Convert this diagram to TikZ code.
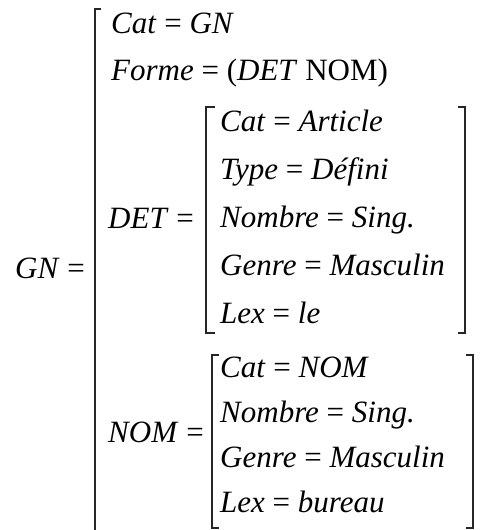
\documentclass[tikz,border=0pt]{standalone}
\usepackage{fontspec}
\setmainfont{Liberation Serif}
\usetikzlibrary{positioning}

\newcommand{\attval}[2]{\textit{#1} = \textit{#2}}

\tikzset{feat/.style={anchor=base west,inner sep=0pt,font=\fontsize{31}{34}\selectfont},
	brack/.style={line width=1.2pt,black!85}}

\begin{document}
\begin{tikzpicture}[x=1pt,y=-1pt]
\useasboundingbox (0,0) rectangle (481,530);

%outer matrix
\draw[brack] (101,9) -- ++(-6,0) -- ++(0,521);% left bracket, open at the bottom
\node[feat] (gn) at (15,278) {\textit{GN} =};
\node[feat] (catgn) at (111,33) {\attval{Cat}{GN}};
\node[feat] (forme) at (111,80) {\textit{Forme} = (\textit{DET} NOM)};

%determiner
\node[feat] (det) at (108,228) {\textit{DET} =};
\draw[brack] (215,107) -- ++(-9,0) -- ++(0,226) -- ++(9,0);% left
\draw[brack] (458,107) -- ++(7,0) -- ++(0,226) -- ++(-7,0);% right
\node[feat] (detcat) at (220,131) {\attval{Cat}{Article}};
\node[feat] (dettype) at (220,179) {\attval{Type}{Défini}};
\node[feat] (detnb) at (220,227) {\attval{Nombre}{Sing.}};
\node[feat] (detgenre) at (220,275) {\attval{Genre}{Masculin}};
\node[feat] (detlex) at (220,323) {\attval{Lex}{le}};

%noun
\node[feat] (nom) at (108,442) {\textit{NOM} =};
\draw[brack] (219,355) -- ++(-7,0) -- ++(0,173) -- ++(7,0);% left
\draw[brack] (466,355) -- ++(7,0) -- ++(0,173) -- ++(-7,0);% right
\node[feat] (nomcat) at (220,377) {\attval{Cat}{NOM}};
\node[feat] (nomnb) at (220,422) {\attval{Nombre}{Sing.}};
\node[feat] (nomgenre) at (220,467) {\attval{Genre}{Masculin}};
\node[feat] (nomlex) at (220,512) {\attval{Lex}{bureau}};

\end{tikzpicture}
\end{document}
